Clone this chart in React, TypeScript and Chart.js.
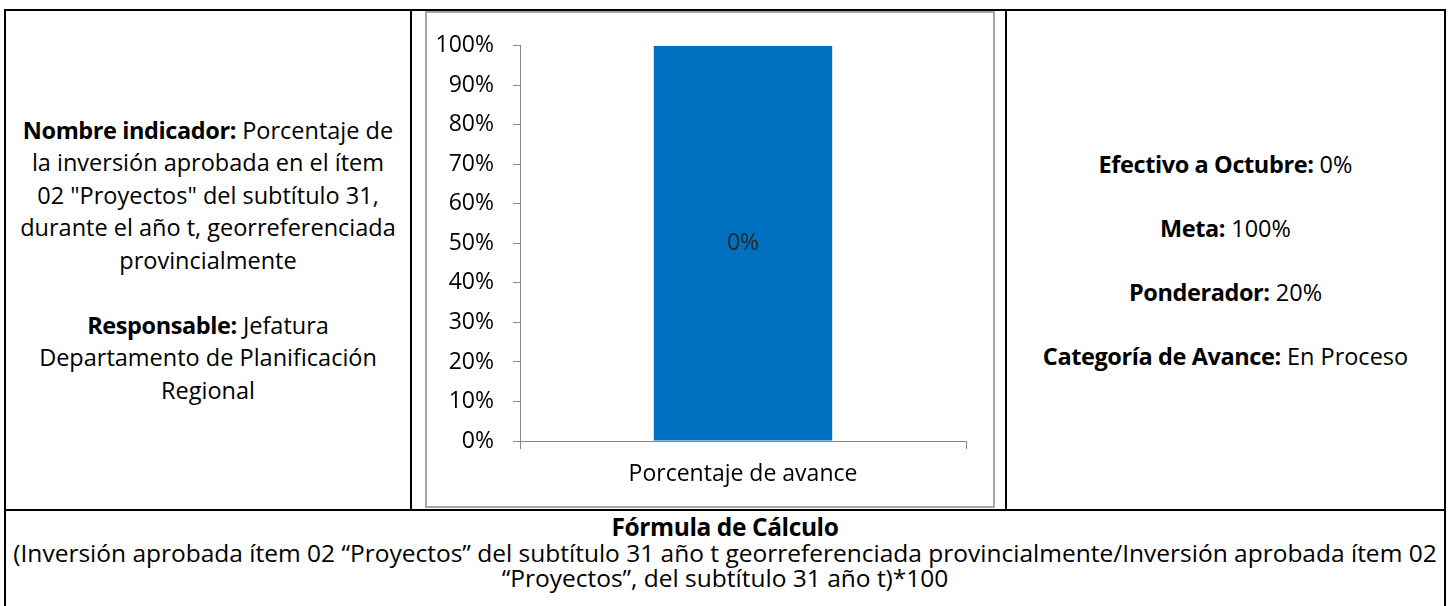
import React, { useEffect, useRef } from "react";
import { Chart, registerables } from "chart.js";

Chart.register(...registerables);

// ---- data ----
const categories = ["Porcentaje de avance"];
const seriesValues = [100];
const barValueLabels = ["0%"];
const yTickValues = [0, 10, 20, 30, 40, 50, 60, 70, 80, 90, 100];
const yTickLabels = ["0%", "10%", "20%", "30%", "40%", "50%", "60%", "70%", "80%", "90%", "100%"];

const FONT = "'Open Sans', Lato, sans-serif";
const TEXT_SIZE = 23.5;
const BOTTOM_SIZE = 24.5;
const CHART_TEXT = 23;

const valueLabelPlugin = {
  id: "valueLabel",
  afterDatasetsDraw(chart: any) {
    const ctx = chart.ctx;
    const meta = chart.getDatasetMeta(0);
    ctx.save();
    ctx.font = `${CHART_TEXT}px ${FONT}`;
    ctx.fillStyle = "#262626";
    ctx.textAlign = "center";
    ctx.textBaseline = "middle";
    meta.data.forEach((el: any, i: number) => {
      const y = (el.y + el.base) / 2;
      ctx.fillText(barValueLabels[i], el.x, y);
    });
    ctx.restore();
  },
};

function BarChart() {
  const ref = useRef<HTMLCanvasElement | null>(null);
  useEffect(() => {
    if (!ref.current) return;
    const chart = new Chart(ref.current, {
      type: "bar",
      data: {
        labels: categories,
        datasets: [
          {
            data: seriesValues,
            backgroundColor: "#0070C0",
            borderWidth: 0,
            barPercentage: 0.4,
            categoryPercentage: 1,
          },
        ],
      },
      options: {
        animation: false,
        responsive: false,
        maintainAspectRatio: false,
        layout: { padding: { top: 29, right: 27, left: 0, bottom: 0 } },
        plugins: {
          legend: { display: false },
          tooltip: { enabled: false },
        },
        scales: {
          x: {
            grid: {
              display: true,
              drawOnChartArea: false,
              drawTicks: true,
              tickLength: 8,
              color: "#868686",
              offset: true,
            },
            border: { display: true, color: "#868686", width: 1 },
            ticks: {
              color: "#000000",
              font: { family: FONT, size: CHART_TEXT },
              padding: 12,
            },
            afterFit: (scale: any) => {
              scale.height = 65;
            },
          },
          y: {
            min: 0,
            max: 100,
            afterBuildTicks: (scale: any) => {
              scale.ticks = yTickValues.map((v) => ({ value: v }));
            },
            grid: {
              display: true,
              drawOnChartArea: false,
              drawTicks: true,
              tickLength: 7,
              color: "#868686",
            },
            border: { display: true, color: "#868686", width: 1 },
            ticks: {
              color: "#000000",
              font: { family: FONT, size: CHART_TEXT },
              padding: 19,
              callback: (v: any) => {
                const i = yTickValues.indexOf(Number(v));
                return i >= 0 ? yTickLabels[i] : "";
              },
            },
            afterFit: (scale: any) => {
              scale.width = 93;
            },
          },
        },
      },
      plugins: [valueLabelPlugin],
    });
    return () => chart.destroy();
  }, []);
  return (
    <canvas
      ref={ref}
      width={566}
      height={493}
      style={{ position: "absolute", left: 427, top: 13, width: 566, height: 493 }}
    />
  );
}

const line = (left: number, top: number, width: number, height: number, color = "#000") => (
  <div style={{ position: "absolute", left, top, width, height, background: color }} />
);

const B = ({ children }: { children: React.ReactNode }) => (
  <b style={{ letterSpacing: "-0.4px" }}>{children}</b>
);

export default function App() {
  return (
    <div
      style={{
        position: "fixed",
        left: 0,
        top: 0,
        width: 1453,
        height: 606,
        overflow: "hidden",
        background: "#fff",
        fontFamily: FONT,
        fontSize: TEXT_SIZE,
        color: "#000",
      }}
    >
      {/* table borders */}
      {line(4, 9, 1442, 2)}
      {line(4, 9, 2, 600)}
      {line(1444, 9, 2, 600)}
      {line(410, 9, 2, 502)}
      {line(1005, 9, 2, 502)}
      {line(4, 509, 1442, 2)}

      {/* left cell */}
      <div
        style={{
          position: "absolute",
          left: 6,
          top: 11,
          width: 404,
          height: 498,
          display: "flex",
          flexDirection: "column",
          justifyContent: "center",
          alignItems: "center",
          textAlign: "center",
          lineHeight: "32.5px",
          whiteSpace: "nowrap",
        }}
      >
        <div>
          <B>Nombre indicador:</B> Porcentaje de
          <br />
          la inversión aprobada en el ítem
          <br />
          02 "Proyectos" del subtítulo 31,
          <br />
          durante el año t, georreferenciada
          <br />
          provincialmente
        </div>
        <div style={{ height: 32.5 }} />
        <div>
          <B>Responsable:</B> Jefatura
          <br />
          Departamento de Planificación
          <br />
          Regional
        </div>
      </div>

      {/* chart box */}
      <div
        style={{
          position: "absolute",
          left: 425,
          top: 11,
          width: 570,
          height: 497,
          boxSizing: "border-box",
          border: "2px solid #a6a6a6",
        }}
      />
      <BarChart />

      {/* right cell */}
      <div
        style={{
          position: "absolute",
          left: 1007,
          top: 11,
          width: 437,
          height: 498,
          display: "flex",
          flexDirection: "column",
          justifyContent: "center",
          alignItems: "center",
          textAlign: "center",
          lineHeight: "32px",
          whiteSpace: "nowrap",
        }}
      >
        <div>
          <B>Efectivo a Octubre:</B> 0%
        </div>
        <div style={{ height: 32 }} />
        <div>
          <B>Meta:</B> 100%
        </div>
        <div style={{ height: 32 }} />
        <div>
          <B>Ponderador:</B> 20%
        </div>
        <div style={{ height: 32 }} />
        <div>
          <B>Categoría de Avance:</B> En Proceso
        </div>
      </div>

      {/* bottom row */}
      <div
        style={{
          position: "absolute",
          left: 6,
          top: 514,
          width: 1438,
          textAlign: "center",
          lineHeight: "25.5px",
          whiteSpace: "nowrap",
          fontSize: BOTTOM_SIZE,
        }}
      >
        <B>Fórmula de Cálculo</B>
        <br />
        (Inversión aprobada ítem 02 “Proyectos” del subtítulo 31 año t georreferenciada provincialmente/Inversión aprobada ítem 02
        <br />
        “Proyectos”, del subtítulo 31 año t)*100
      </div>
    </div>
  );
}
